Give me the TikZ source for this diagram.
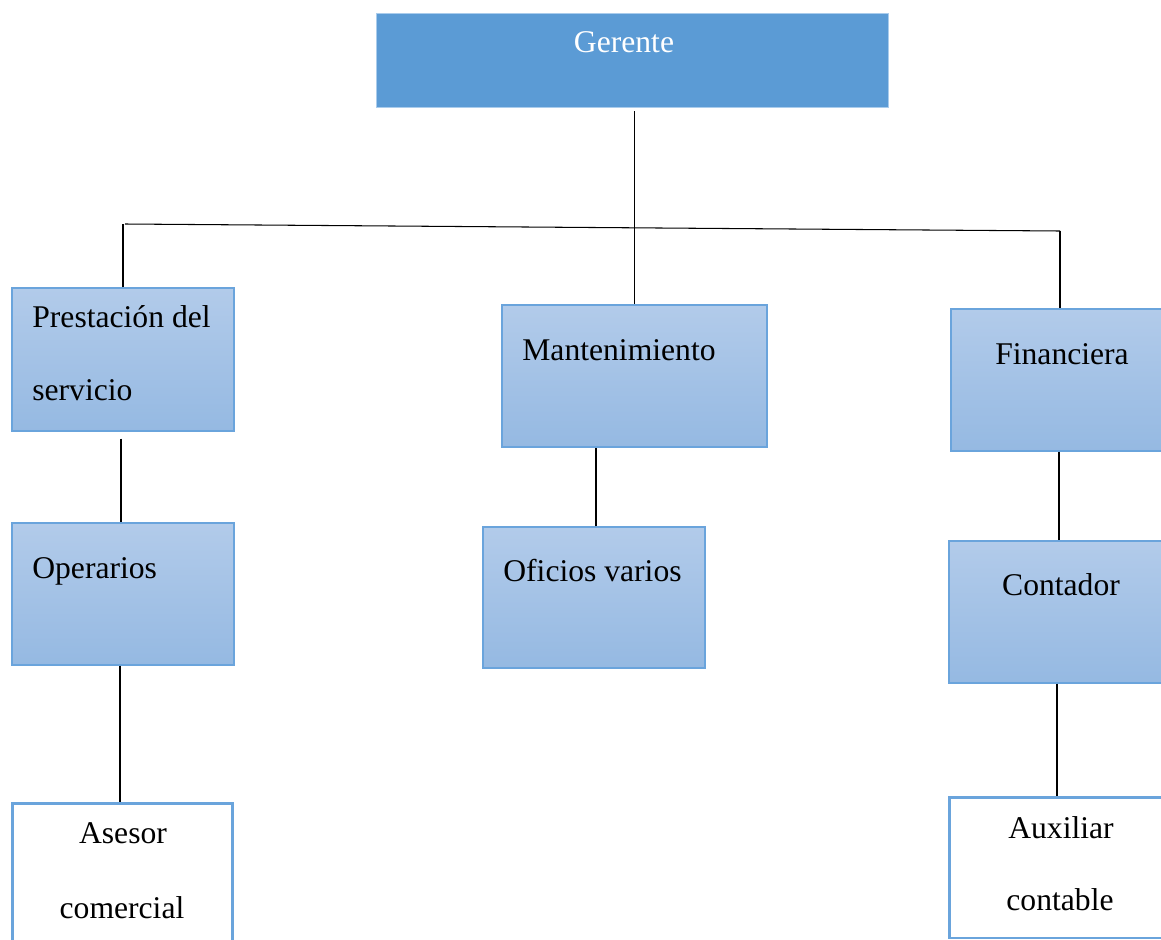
\documentclass[tikz,border=0pt]{standalone}
\usepackage{fontspec}
\setmainfont{Liberation Serif}
\begin{document}
\begin{tikzpicture}[x=0.02cm,y=-0.02cm,
  cargo/.style={draw=borde,line width=0.8pt,top color=arriba,bottom color=abajo,inner sep=0pt},
  vacio/.style={draw=borde,line width=1.7pt,fill=white,inner sep=0pt},
  txt/.style={font=\fontsize{18}{22}\selectfont,inner sep=0pt},
  linea/.style={line width=0.6pt}]
\definecolor{jefe}{RGB}{91,155,213}
\definecolor{borde}{RGB}{106,164,220}
\definecolor{arriba}{RGB}{178,203,234}
\definecolor{abajo}{RGB}{149,185,226}
\definecolor{bordegte}{RGB}{170,204,236}
\useasboundingbox (0,0) rectangle (1161,940);
\clip (0,0) rectangle (1161,940);
% cajas
\node[fill=jefe,draw=bordegte,line width=0.5pt,minimum width=10.24cm,minimum height=1.88cm] (ger) at (632,60) {};
\node[cargo,minimum width=4.44cm,minimum height=2.86cm] (prest) at (123,359.5) {};
\node[cargo,minimum width=4.44cm,minimum height=2.84cm] (oper) at (123,594) {};
\node[vacio,minimum width=4.42cm,minimum height=2.84cm] (ases) at (122.5,874) {};
\node[cargo,minimum width=5.3cm,minimum height=2.84cm] (mant) at (634.5,376) {};
\node[cargo,minimum width=4.44cm,minimum height=2.82cm] (ofi) at (594,597.5) {};
\node[cargo,minimum width=4.44cm,minimum height=2.84cm] (fin) at (1062,380) {};
\node[cargo,minimum width=4.44cm,minimum height=2.84cm] (cont) at (1060,612) {};
\node[vacio,minimum width=4.44cm,minimum height=2.82cm] (aux) at (1060,867.5) {};
% textos
\node[txt,text=white,anchor=base] (tger) at (624,52) {Gerente};
\node[txt,anchor=base west] (tprest1) at (32,327) {Prestación del};
\node[txt,anchor=base west] (tprest2) at (32,400) {servicio};
\node[txt,anchor=base west] (toper) at (32,578) {Operarios};
\node[txt,anchor=base] (tases1) at (123,843) {Asesor};
\node[txt,anchor=base] (tases2) at (122,918) {comercial};
\node[txt,anchor=base west] (tmant) at (522,360) {Mantenimiento};
\node[txt,anchor=base west] (tofi) at (503,581) {Oficios varios};
\node[txt,anchor=base] (tfin) at (1062,364) {Financiera};
\node[txt,anchor=base] (tcont) at (1061,595) {Contador};
\node[txt,anchor=base] (taux1) at (1061,838) {Auxiliar};
\node[txt,anchor=base] (taux2) at (1060,910) {contable};
% conectores
\coordinate (barL) at (125,224);
\coordinate (barR) at (1060,231);
\draw[linea] (mant.north |- ger.south) ++(0,4) -- (mant.north);
\draw[linea] (barL) -- (barR);
\draw[linea] (prest.north) -- (prest.north |- barL);
\draw[linea] (barR) -- (fin.north -| barR);
\draw[linea] (prest.south) ++(-2,7) -- (oper.north -| 121,0);
\draw[linea] (oper.south -| 120,0) -- (ases.north -| 120,0);
\draw[linea] (ofi.north -| 596,0) -- (mant.south -| 596,0);
\draw[linea] (fin.south -| 1059,0) -- (cont.north -| 1059,0);
\draw[linea] (cont.south -| 1057,0) -- (aux.north -| 1057,0);
\end{tikzpicture}
\end{document}
